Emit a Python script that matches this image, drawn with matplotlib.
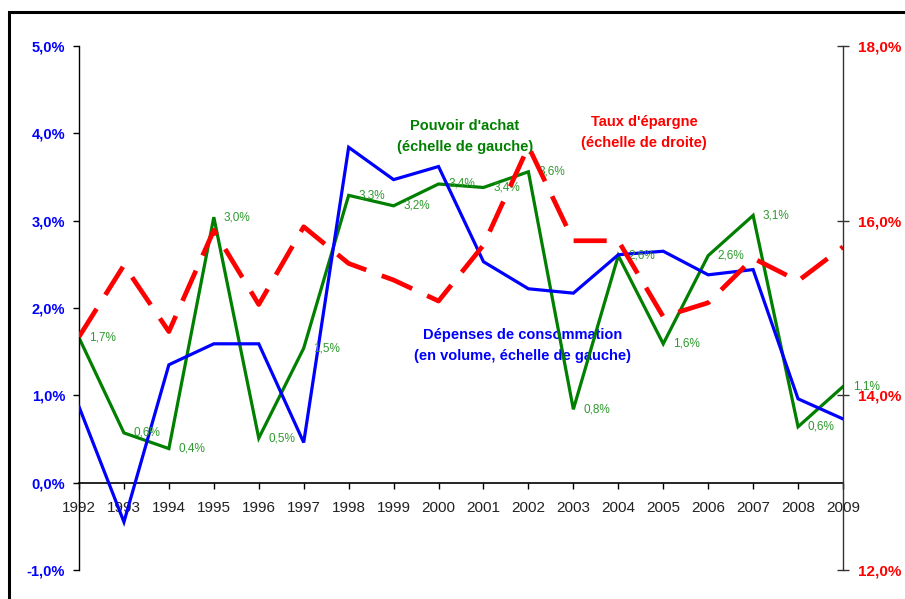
import matplotlib
matplotlib.use("Agg")
import matplotlib.pyplot as plt
from matplotlib.ticker import FuncFormatter, FixedLocator
from matplotlib.patches import Rectangle

plt.rcParams['font.family'] = ['Liberation Sans Narrow', 'Liberation Sans', 'DejaVu Sans']

# données
annees = list(range(1992, 2010))
depenses = [0.87, -0.45, 1.35, 1.59, 1.59, 0.46, 3.84, 3.47, 3.62, 2.53,
            2.22, 2.17, 2.61, 2.65, 2.38, 2.44, 0.96, 0.73]
pouvoir = [1.66, 0.57, 0.39, 3.04, 0.51, 1.54, 3.29, 3.17, 3.42, 3.38,
           3.56, 0.84, 2.60, 1.59, 2.60, 3.06, 0.64, 1.10]
epargne = [14.67, 15.49, 14.73, 15.89, 15.04, 15.93, 15.51, 15.32, 15.08, 15.72,
           16.85, 15.77, 15.77, 14.90, 15.06, 15.57, 15.31, 15.70]
ticks_gauche = [-1, 0, 1, 2, 3, 4, 5]
ticks_droite = [12, 14, 16, 18]


def pct(v, pos=None):
    return f"{v:.1f}".replace('.', ',') + '%'


fig = plt.figure(figsize=(9.05, 5.99), dpi=100)
ax = fig.add_axes([79 / 905, 1 - 570 / 599, 764 / 905, 524 / 599])
ax2 = ax.twinx()

# courbes (échelle de gauche)
ax.plot(annees, pouvoir, color='#007F00', lw=2.3, zorder=2, solid_joinstyle='miter')
ax.plot(annees, depenses, color='#0000FF', lw=2.3, zorder=3, solid_joinstyle='miter')
for x, v in zip(annees, pouvoir):
    ax.annotate(pct(v), (x, v), xytext=(7, 0), textcoords='offset points',
                va='center', ha='left', fontsize=8.5, color='#2E9A2E', zorder=4)

# taux d'épargne (échelle de droite)
ax2.plot(annees, epargne, color='#FF0000', lw=3.4, dashes=(7, 3.5),
         solid_joinstyle='miter', dash_capstyle='butt')

ax.set_xlim(1992, 2009)
ax.set_ylim(-1, 5)
ax2.set_ylim(12, 18)

ax.set_xticks(annees)
ax.set_xticklabels([str(a) for a in annees])
ax.yaxis.set_major_locator(FixedLocator(ticks_gauche))
ax.yaxis.set_major_formatter(FuncFormatter(pct))
ax2.yaxis.set_major_locator(FixedLocator(ticks_droite))
ax2.yaxis.set_major_formatter(FuncFormatter(pct))

for s in ['top', 'right']:
    ax.spines[s].set_visible(False)
for s in ['top', 'left', 'bottom']:
    ax2.spines[s].set_visible(False)
ax.spines['bottom'].set_position(('data', 0))
ax.spines['left'].set_linewidth(1)
ax.spines['bottom'].set_linewidth(1.2)
ax2.spines['right'].set_linewidth(1)
ax2.spines['right'].set_color('#333333')

ax.tick_params(axis='x', direction='out', length=4.5, width=1, pad=9,
               labelsize=11, labelcolor='#222222')
ax.tick_params(axis='y', direction='out', length=4, width=1, pad=6,
               labelsize=10.5, labelcolor='#0000FF')
for lab in ax.get_yticklabels():
    lab.set_fontweight('bold')
ax2.tick_params(axis='y', direction='inout', length=8, width=1, pad=7,
                labelsize=11, labelcolor='#FF0000', color='#333333')
for lab in ax2.get_yticklabels():
    lab.set_fontweight('bold')
ax.set_axisbelow(True)

# textes
ax.text(0.505, 0.827, "Pouvoir d'achat\n(échelle de gauche)", transform=ax.transAxes,
        ha='center', va='center', color='#007F00', fontsize=10.5, fontweight='bold',
        linespacing=1.6, zorder=1)
ax.text(0.740, 0.835, "Taux d'épargne\n(échelle de droite)", transform=ax.transAxes,
        ha='center', va='center', color='#FF0000', fontsize=10.5, fontweight='bold',
        linespacing=1.6, zorder=1)
ax.text(0.581, 0.429, "Dépenses de consommation\n(en volume, échelle de gauche)",
        transform=ax.transAxes, ha='center', va='center', color='#0000FF',
        fontsize=10.5, fontweight='bold', linespacing=1.6, zorder=1)

# cadre
fig.patches.append(Rectangle((9 / 905, -0.1), 1.2, 1.1 - 12 / 599, transform=fig.transFigure,
                             fill=False, lw=2.2, edgecolor='black', clip_on=False))

fig.savefig('out.png', dpi=100)
